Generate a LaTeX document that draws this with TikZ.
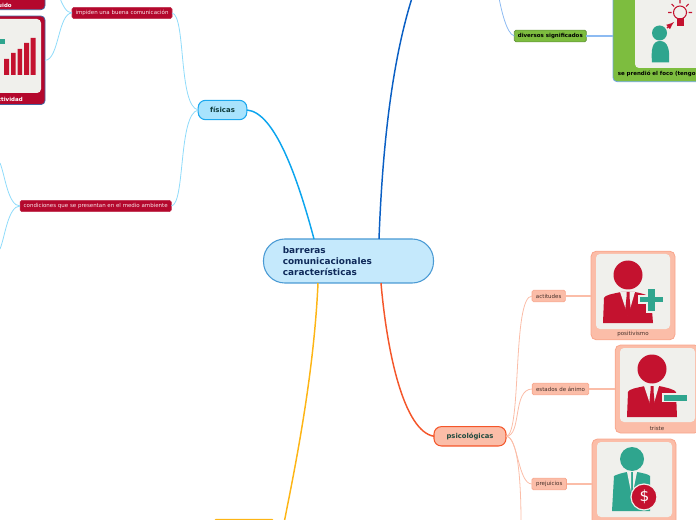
\documentclass[tikz,border=0pt]{standalone}
\usepackage{fontspec}
\usetikzlibrary{calc}
\setmainfont{DejaVu Sans}
\definecolor{crim}{HTML}{B4082D}
\definecolor{iconred}{HTML}{C4122F}
\definecolor{teal1}{HTML}{2FA58E}
\definecolor{panel}{HTML}{F0F0EC}
\definecolor{salmon}{HTML}{FBBDA8}
\definecolor{salmonb}{HTML}{F8A68C}
\definecolor{skyl}{HTML}{8FDBFA}
\definecolor{grn}{HTML}{7DBD3F}
\definecolor{cline}{HTML}{4A9AD4}
\definecolor{cfill}{HTML}{C5E9FC}
\definecolor{navy1}{HTML}{0F2A5A}
\definecolor{brownt}{HTML}{45302A}
\tikzset{
  x=0.75pt,y=-0.75pt,
  box/.style={rectangle,inner sep=0pt,outer sep=0pt,align=center},
  central/.style={box,draw=cline,line width=0.8pt,fill=cfill,rounded corners=16pt,minimum width=127.5pt,minimum height=33pt},
  fisnode/.style={box,draw={rgb,255:red,28;green,168;blue,238},line width=0.8pt,fill={rgb,255:red,168;green,227;blue,253},rounded corners=5.5pt,minimum width=36.5pt,minimum height=14.5pt,font=\fontsize{5.2}{6}\selectfont\bfseries,text={rgb,255:red,13;green,59;blue,59}},
  psinode/.style={box,draw={rgb,255:red,244;green,86;blue,42},line width=0.8pt,fill=salmon,rounded corners=5.5pt,minimum width=54pt,minimum height=14.5pt,font=\fontsize{5.1}{6}\selectfont\bfseries,text={rgb,255:red,30;green,74;blue,62}},
  rednode/.style={box,fill=crim,draw=crim!85!white,line width=0.4pt,rounded corners=1.2pt,minimum height=8.3pt,text=white!90!crim,font=\fontsize{4.12}{5}\selectfont},
  grnnode/.style={box,fill=grn,draw={rgb,255:red,95;green,143;blue,58},line width=0.5pt,rounded corners=1.2pt,minimum width=54pt,minimum height=8.8pt,font=\fontsize{4.12}{5}\selectfont\bfseries,text=black},
  salnode/.style={box,fill=salmon,draw=salmonb,line width=0.5pt,rounded corners=1.2pt,minimum height=8.8pt,font=\fontsize{4.12}{5}\selectfont,text=brownt},
  salcard/.style={box,fill=salmon,draw=salmonb,line width=0.6pt,rounded corners=4pt},
  panelbox/.style={fill=panel,rounded corners=3pt},
  main/.style={line width=1.1pt},
  sub/.style={line width=0.6pt},
  link/.style={line width=0.85pt},
  captext/.style={inner sep=0pt,font=\fontsize{4.12}{5}\selectfont},
}
\begin{document}
\begin{tikzpicture}
\useasboundingbox (0,0) rectangle (696,520);
\clip (0,0) rectangle (696,520);
% anchors at page edges
\coordinate (topblue) at (412,-2);
\coordinate (leftup) at (60,-2);
\coordinate (condup) at (0,163);
\coordinate (conddown) at (0,249);
\coordinate (divup) at (499,-2);
\coordinate (psidown) at (521,522);
\coordinate (yelend) at (284,523);
% nodes
\node[central] (c) at (348.5,261) {};
\node[anchor=west,inner sep=0pt,align=left,text=navy1,font=\fontsize{6.7}{8.25}\selectfont\bfseries] (ctext) at (282.5,261) {barreras\\comunicacionales\\características};
\node[fisnode] (fis) at (222.5,110) {físicas};
\node[psinode] (psi) at (470,436.3) {psicológicas};
\node[rednode,minimum width=75pt] (imp) at (122,13) {impiden una buena comunicación};
\node[rednode,minimum width=113.5pt] (cond) at (95.7,206) {condiciones que se presentan en el medio ambiente};
\node[grnnode] (div) at (550.3,36) {diversos significados};
\node[salnode,minimum width=25pt] (act) at (548.7,296) {actitudes};
\node[salnode,minimum width=42.5pt] (est) at (560.5,389) {estados de ánimo};
\node[salnode,minimum width=26pt] (pre) at (549.2,484) {prejuicios};
% left cards
\node[box,fill=crim,draw={rgb,255:red,70;green,100;blue,160},line width=0.6pt,rounded corners=3pt,minimum width=60pt,minimum height=22pt] (lc1) at (5,-5) {};
\node[box,fill=crim,draw={rgb,255:red,70;green,100;blue,160},line width=0.6pt,rounded corners=3pt,minimum width=60pt,minimum height=66.4pt] (lc2) at (5,60.3) {};
\node[anchor=east,inner sep=0pt,text=white,font=\fontsize{4.12}{5}\selectfont\bfseries] (t1) at (12,5) {uido};
\node[anchor=east,inner sep=0pt,text=white,font=\fontsize{4.12}{5}\selectfont\bfseries] (t2) at (23,99) {ctividad};
\fill[panelbox] (-20,19) rectangle (41,93);
\fill[teal1] (-4,39.5) rectangle (5,44);
\fill[iconred] (4,59) rectangle (9,75) (11,53) rectangle (15.5,75) (17.5,49) rectangle (22,75) (24,43) rectangle (29,75) (30.5,38) rectangle (35.5,75);
% top right card
\node[box,fill=grn,draw={rgb,255:red,110;green,166;blue,224},line width=0.6pt,rounded corners=3pt,minimum width=90pt,minimum height=70pt] (gc) at (673,35) {};
\fill[panelbox] (635,-10) rectangle (710,68);
\node[anchor=west,inner sep=0pt,text=black,font=\fontsize{4.12}{5}\selectfont\bfseries] (gt) at (617.5,74) {se prendió el foco (tengo};
\fill[teal1] (659.5,33) circle (7.5);
\fill[teal1] (652,62.5) .. controls (651,50) and (652,41) .. (660,41) .. controls (668,41) and (670,50) .. (669,62.5) -- cycle;
\draw[iconred,line width=0.8pt] (680,12.5) circle (6.5);
\fill[iconred] (676.5,18.5) rectangle (684,26.5);
\draw[iconred,line width=0.8pt] (680,0)--(680,3.5) (668,12.5)--(671.5,12.5) (688.5,12.5)--(692,12.5) (671.5,4)--(674,6.5) (688.5,4)--(686,6.5);
\draw[iconred,line width=1pt,-latex] (667,28)--(674,22);
% positivismo
\node[salcard,minimum width=63pt,minimum height=66.5pt] (pc) at (633,295.5) {};
\fill[panelbox] (596,254) rectangle (670,329);
\node[captext,text=brownt] (pt) at (633,334) {positivismo};
\fill[iconred] (628,275) circle (14.5);
\fill[iconred] (603,323) -- (604,298) .. controls (605,295) and (612,294) .. (621,292) -- (635,292) .. controls (645,294) and (650,296) .. (651,298) -- (653,323) -- cycle;
\fill[panel] (620,292) -- (628,316) -- (635,292) -- cycle;
\fill[iconred] (626.5,292) rectangle (629.5,297) (626.5,297) -- (629.5,297) -- (631,312) -- (628,317) -- (625,312) -- cycle;
\draw[panel,line width=0.8pt,fill=teal1] (647,288) -- (656,288) -- (656,296) -- (663.5,296) -- (663.5,303) -- (656,303) -- (656,312) -- (647,312) -- (647,303) -- (639,303) -- (639,296) -- (647,296) -- cycle;
% triste
\node[salcard,minimum width=63.5pt,minimum height=66pt] (tc) at (657.5,389) {};
\fill[panelbox] (620,348) rectangle (695,422);
\node[captext,text=brownt] (tt) at (657,428) {triste};
\fill[iconred] (652,369) circle (14.5);
\fill[iconred] (627,417) -- (628,392) .. controls (629,389) and (636,388) .. (645,386) -- (659,386) .. controls (669,388) and (675,390) .. (676,392) -- (677,417) -- cycle;
\fill[panel] (644,386) -- (652,410) -- (659,386) -- cycle;
\fill[iconred] (650.5,386) rectangle (653.5,391) (650.5,391) -- (653.5,391) -- (655,406) -- (652,411) -- (649,406) -- cycle;
\draw[panel,line width=0.8pt,fill=teal1] (663,394) rectangle (688,401.5);
% prejuicios card
\node[salcard,minimum width=63pt,minimum height=66pt] (dc) at (634,483) {};
\fill[panelbox] (597,442) rectangle (672,517);
\fill[teal1] (632,459) circle (12);
\fill[teal1] (612,511) -- (614,476) .. controls (618,474) and (622,473) .. (627,472) -- (637,472) .. controls (642,473) and (648,474) .. (650,476) -- (650,511) -- cycle;
\fill[panel] (627,472) -- (631,492) -- (631,472) -- cycle;
\fill[panel] (637,472) -- (633,492) -- (633,472) -- cycle;
\draw[panel,line width=0.9pt,fill=iconred] (644,497) circle (13);
\node[inner sep=0pt,text=white,font=\fontsize{11.5}{12}\selectfont] (dollar) at (644.5,497) {\$};
% yellow node top edge
\node[box,draw={rgb,255:red,253;green,181;blue,21},line width=0.8pt,fill=white,rounded corners=1pt,minimum width=44pt,minimum height=10pt] (yn) at (244,526) {};
% main connectors
\draw[main,draw={rgb,255:red,12;green,165;blue,238}] (fis.east) .. controls +(28,2) and +(-16,-60) .. ($(c.north)+(-34.5,0)$);
\draw[main,draw={rgb,255:red,10;green,95;blue,196}] ($(c.north)+(30.5,0)$) .. controls +(3,-80) and +(-22,70) .. (topblue);
\draw[main,draw={rgb,255:red,244;green,86;blue,42}] ($(c.south)+(32.5,0)$) .. controls +(6,70) and +(-30,-5) .. (psi.west);
\draw[main,draw={rgb,255:red,253;green,181;blue,21}] ($(c.south)+(-30.5,0)$) .. controls +(-4,90) and +(12,-60) .. (yelend);
% sub connectors
\draw[sub,draw=skyl] (imp.east) .. controls +(14,2) and +(-20,-4) .. (fis.west);
\draw[sub,draw=skyl] (cond.east) .. controls +(14,-2) and +(-20,4) .. (fis.west);
\draw[sub,draw=skyl] (imp.west) .. controls +(-6,0) and +(2,6) .. (leftup);
\draw[sub,draw=skyl] (imp.west) .. controls +(-14,0) and +(14,0) .. (lc2.east);
\draw[sub,draw=skyl] (cond.west) .. controls +(-12,0) and +(5,12) .. (condup);
\draw[sub,draw=skyl] (cond.west) .. controls +(-12,0) and +(5,-12) .. (conddown);
\draw[sub,draw={rgb,255:red,141;green,187;blue,242}] (div.west) .. controls +(-8,-2) and +(2,10) .. (divup);
\draw[link,draw={rgb,255:red,141;green,187;blue,242}] (div.east) -- (gc.west|-div.east);
\draw[sub,draw=salmon] (psi.east) .. controls +(16,0) and +(-20,0) .. (act.west);
\draw[sub,draw=salmon] (psi.east) .. controls +(16,0) and +(-20,0) .. (est.west);
\draw[sub,draw=salmon] (psi.east) .. controls +(12,0) and +(-14,0) .. (pre.west);
\draw[sub,draw=salmon] (psi.east) .. controls +(12,0) and +(0,-40) .. (psidown);
\draw[link,draw=salmon] (act.east) -- (pc.west|-act.east);
\draw[link,draw=salmon] (est.east) -- (tc.west|-est.east);
\draw[link,draw=salmon] (pre.east) -- (dc.west|-pre.east);
\end{tikzpicture}
\end{document}
